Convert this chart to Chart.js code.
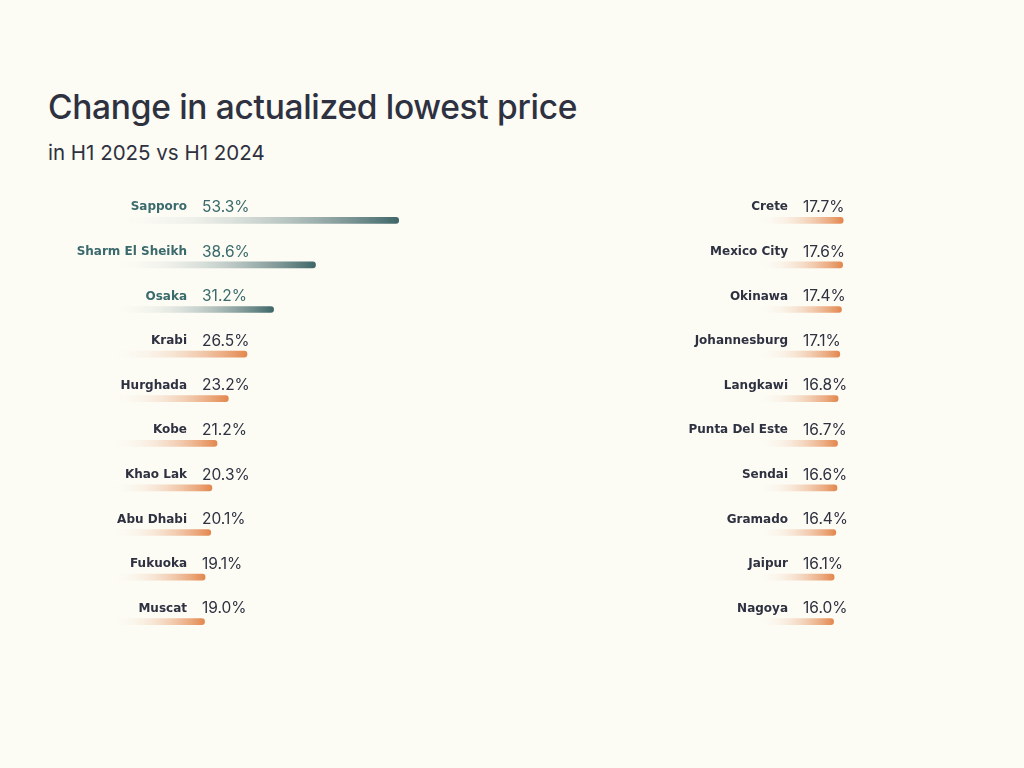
<!DOCTYPE html>
<html>
<head>
<meta charset="utf-8">
<script src="https://cdn.jsdelivr.net/npm/chart.js@4"></script>
<style>
  body { margin: 0; background: #fcfbf4; width: 1024px; height: 768px; position: relative; overflow: hidden; font-family: Inter, "Noto Sans", sans-serif; }
  h1 { position: absolute; left: 48px; top: 87px; margin: 0; font-size: 33.5px; font-weight: 500; color: #2e3140; letter-spacing: -0.3px; }
  h2 { position: absolute; left: 48px; top: 140px; margin: 0; font-size: 20.5px; font-weight: 400; color: #2e3140; }
  .wrap { position: absolute; top: 198px; height: 446px; }
  #leftWrap { left: 0; width: 600px; }
  #rightWrap { left: 600px; width: 424px; }
</style>
</head>
<body>
<h1>Change in actualized lowest price</h1>
<h2>in H1 2025 vs H1 2024</h2>
<div class="wrap" id="leftWrap"><canvas id="leftChart"></canvas></div>
<div class="wrap" id="rightWrap"><canvas id="rightChart"></canvas></div>
<script>
const leftCities = ['Sapporo', 'Sharm El Sheikh', 'Osaka', 'Krabi', 'Hurghada', 'Kobe', 'Khao Lak', 'Abu Dhabi', 'Fukuoka', 'Muscat'];
const leftValues = [53.3, 38.6, 31.2, 26.5, 23.2, 21.2, 20.3, 20.1, 19.1, 19.0];
const rightCities = ['Crete', 'Mexico City', 'Okinawa', 'Johannesburg', 'Langkawi', 'Punta Del Este', 'Sendai', 'Gramado', 'Jaipur', 'Nagoya'];
const rightValues = [17.7, 17.6, 17.4, 17.1, 16.8, 16.7, 16.6, 16.4, 16.1, 16.0];
const highlighted = ['Sapporo', 'Sharm El Sheikh', 'Osaka'];

const PX_PER_PCT = 5.66;
const TEAL = '#3f6668';
const ORANGE = '#e3874d';

function barColor(ctx, cities) {
    const chart = ctx.chart;
    const el = chart.getDatasetMeta(0).data[ctx.dataIndex];
    if (!el || !chart.chartArea) return 'rgba(0,0,0,0)';
    const city = cities[ctx.dataIndex];
    const col = highlighted.includes(city) ? TEAL : ORANGE;
    const x0 = chart.scales.x.getPixelForValue(3);
    const x1 = chart.scales.x.getPixelForValue(ctx.raw);
    const g = chart.ctx.createLinearGradient(x0, 0, x1, 0);
    g.addColorStop(0, 'rgba(252,251,244,0)');
    g.addColorStop(1, col);
    return g;
}

const labelPlugin = {
    id: 'cityLabels',
    afterDatasetsDraw(chart, args, opts) {
        const ctx = chart.ctx;
        const meta = chart.getDatasetMeta(0);
        ctx.save();
        ctx.textBaseline = 'middle';
        meta.data.forEach((bar, i) => {
            const city = opts.cities[i];
            const hl = highlighted.includes(city);
            const y = bar.y - 13;
            ctx.font = 'bold 12px "DejaVu Sans", sans-serif';
            ctx.fillStyle = hl ? '#3a6a6c' : '#2e3140';
            ctx.textAlign = 'right';
            ctx.fillText(city, opts.labelX, y);
            ctx.font = '400 15.5px Inter, "Noto Sans", sans-serif';
            ctx.textAlign = 'left';
            ctx.fillText(opts.values[i].toFixed(1) + '%', opts.labelX + 15, y);
        });
        ctx.restore();
    }
};

function makeChart(id, cities, values, xStart, width, labelX) {
    return new Chart(document.getElementById(id), {
        type: 'bar',
        data: {
            labels: cities,
            datasets: [{
                data: values,
                backgroundColor: ctx => barColor(ctx, cities),
                barThickness: 6,
                borderRadius: 3,
                borderSkipped: false
            }]
        },
        options: {
            indexAxis: 'y',
            responsive: true,
            maintainAspectRatio: false,
            animation: false,
            layout: { padding: { left: xStart, right: 0, top: 0, bottom: 0 } },
            scales: {
                x: { display: false, min: 0, max: (width - xStart) / PX_PER_PCT },
                y: { display: false }
            },
            plugins: {
                legend: { display: false },
                tooltip: { enabled: false },
                cityLabels: { cities: cities, values: values, labelX: labelX }
            }
        },
        plugins: [labelPlugin]
    });
}

makeChart('leftChart', leftCities, leftValues, 97, 600, 187);
makeChart('rightChart', rightCities, rightValues, 143, 424, 188);
</script>
</body>
</html>
